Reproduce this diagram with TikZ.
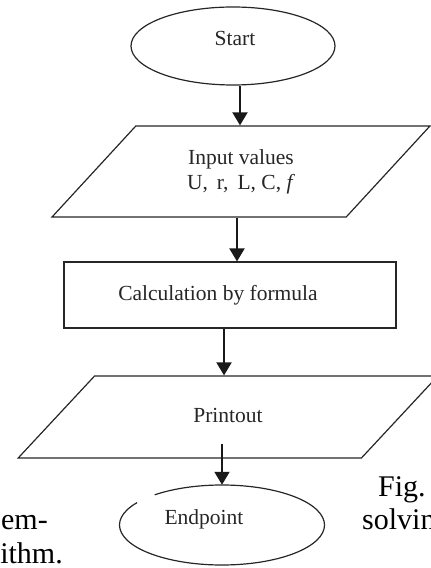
\documentclass[tikz,border=0pt]{standalone}
\usepackage{fontspec}
\setmainfont{Liberation Serif}
\usetikzlibrary{shapes.geometric,arrows.meta,positioning}

\tikzset{
  boxtext/.style={font=\fontsize{21.5}{25}\selectfont, align=center, text=black!85},
  termnode/.style={ellipse, minimum width=204pt, minimum height=78pt, inner sep=0pt},
  ionode/.style={trapezium, boxtext, trapezium stretches=true, inner sep=0pt},
  procnode/.style={rectangle, boxtext, minimum width=332pt, minimum height=66pt, inner sep=0pt},
  outline/.style={draw=black!85, line width=1.2pt},
  flowarrow/.style={-{Triangle[width=15pt,length=13pt]}, line width=2pt, black!90},
  pagetext/.style={font=\fontsize{30}{33}\selectfont, inner sep=0pt}
}

\begin{document}
\begin{tikzpicture}[x=1pt, y=1pt]
\useasboundingbox (0,0) rectangle (431,568);
\clip (0,0) rectangle (431,568);

\node[termnode, outline] (Start) at (233,522) {};
\node[boxtext] (StartText) at ([xshift=2pt,yshift=8pt]Start.center) {Start};
\node[ionode, outline, minimum width=378pt, minimum height=91pt,
      trapezium left angle=46, trapezium right angle=134] (In) at (241,396.5) {Input values\\U,\, r,\, L, C, \textit{f}};
\node[procnode, outline] (Calc) at (230,273) {\hspace*{-24pt}Calculation by formula};
\node[ionode, outline, minimum width=420pt, minimum height=82pt,
      trapezium left angle=41, trapezium right angle=139] (Out) at (228,151) {\raisebox{3pt}{Printout}};
\node[termnode, minimum width=205pt, minimum height=80pt] (End) at (222,43) {};
\node[boxtext] (EndText) at ([xshift=-18pt,yshift=6pt]End.center) {Endpoint};

% end ellipse with its small break on the upper left
\draw[outline] ([shift={(146:102.5pt and 40pt)}]End.center)
  arc[start angle=146, end angle=491, x radius=102.5pt, y radius=40pt];

\draw[flowarrow] ([xshift=7pt]Start.south) -- ([xshift=7pt]Start.south |- In.north);
\draw[flowarrow] ([xshift=7pt]Calc.north |- In.south) -- ([xshift=7pt]Calc.north);
\draw[flowarrow] ([xshift=-6pt]Calc.south) -- ([xshift=-6pt]Calc.south |- Out.north);
\draw[flowarrow] ([yshift=15pt]Out.south -| End.north) -- (End.north);

% cut-off text of the page around the figure
\node[pagetext, anchor=base east] (capA) at (48,38) {em-};
\node[pagetext, anchor=base east] (capB) at (63,5) {ithm.};
\node[pagetext, anchor=base west] (capC) at (378,71) {Fig.};
\node[pagetext, anchor=base west] (capD) at (362,38) {solving};
\end{tikzpicture}
\end{document}
